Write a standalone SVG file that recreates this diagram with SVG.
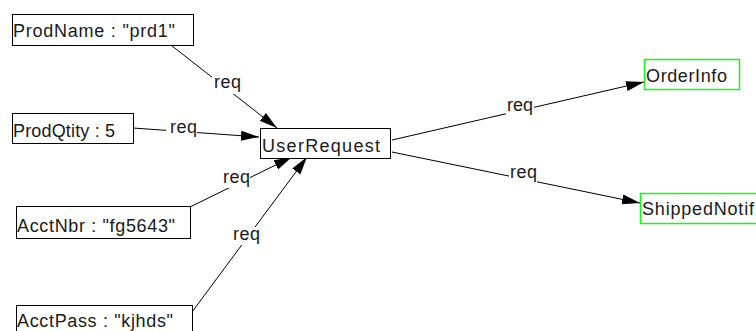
<svg xmlns="http://www.w3.org/2000/svg" width="756" height="331" viewBox="0 0 756 331">
  <defs>
    <marker id="arrow" markerUnits="userSpaceOnUse" markerWidth="19" markerHeight="11" refX="18" refY="5" orient="auto">
      <path d="M0,0 L18,5 L0,10 Z" fill="#000"/>
    </marker>
    <style>
      .box { fill: #fff; stroke: #000; stroke-width: 1; }
      .box-alt { fill: #fff; stroke: #1ff01f; stroke-width: 1.5; }
      .txt { font-family: "Liberation Sans", Arial, sans-serif; font-size: 18px; fill: #1a1a1a; }
      .edge { stroke: #000; stroke-width: 1; fill: none; marker-end: url(#arrow); }
      .lbl-bg { fill: #fff; }
    </style>
  </defs>
  <rect width="756" height="331" fill="#fff"/>

  <g id="connectors">
    <line class="edge" x1="167" y1="42" x2="277" y2="128"/>
    <line class="edge" x1="133" y1="128" x2="259" y2="137"/>
    <line class="edge" x1="190" y1="207" x2="292" y2="157"/>
    <line class="edge" x1="192" y1="312" x2="307" y2="157"/>
    <line class="edge" x1="392" y1="140" x2="644" y2="82"/>
    <line class="edge" x1="392" y1="152" x2="640" y2="203"/>

    <rect class="lbl-bg" x="212" y="77" width="29" height="17"/>
    <text class="txt" x="214" y="88" textLength="27">req</text>
    <rect class="lbl-bg" x="166" y="121" width="31" height="17"/>
    <text class="txt" x="170" y="133" textLength="27">req</text>
    <rect class="lbl-bg" x="221" y="171" width="29" height="17"/>
    <text class="txt" x="223" y="183" textLength="27">req</text>
    <rect class="lbl-bg" x="231" y="227" width="29" height="18"/>
    <text class="txt" x="233" y="240" textLength="27">req</text>
    <rect class="lbl-bg" x="506" y="100" width="28" height="16"/>
    <text class="txt" x="507" y="111" textLength="26">req</text>
    <rect class="lbl-bg" x="509" y="167" width="28" height="16"/>
    <text class="txt" x="510" y="178" textLength="27">req</text>
  </g>

  <g id="ProdName">
    <rect class="box" x="12.5" y="14.5" width="181" height="31"/>
    <text class="txt" x="13" y="37" textLength="162">ProdName : "prd1"</text>
  </g>
  <g id="ProdQtity">
    <rect class="box" x="12.5" y="113.5" width="121" height="30"/>
    <text class="txt" x="13" y="137" textLength="102">ProdQtity : 5</text>
  </g>
  <g id="UserRequest">
    <rect class="box" x="260.5" y="128.5" width="130" height="30"/>
    <text class="txt" x="262" y="152" textLength="118">UserRequest</text>
  </g>
  <g id="AcctNbr">
    <rect class="box" x="16.5" y="206.5" width="174" height="32"/>
    <text class="txt" x="17" y="232" textLength="158">AcctNbr : "fg5643"</text>
  </g>
  <g id="AcctPass">
    <rect class="box" x="16.5" y="305.5" width="176" height="32"/>
    <text class="txt" x="17" y="327" textLength="156">AcctPass : "kjhds"</text>
  </g>
  <g id="OrderInfo">
    <rect class="box-alt" x="644.5" y="59.5" width="95" height="30"/>
    <text class="txt" x="646" y="82" textLength="81">OrderInfo</text>
  </g>
  <g id="ShippedNotif">
    <rect class="box-alt" x="640.5" y="193.5" width="130" height="30"/>
    <text class="txt" x="642" y="215" textLength="112">ShippedNotif</text>
  </g>
</svg>
